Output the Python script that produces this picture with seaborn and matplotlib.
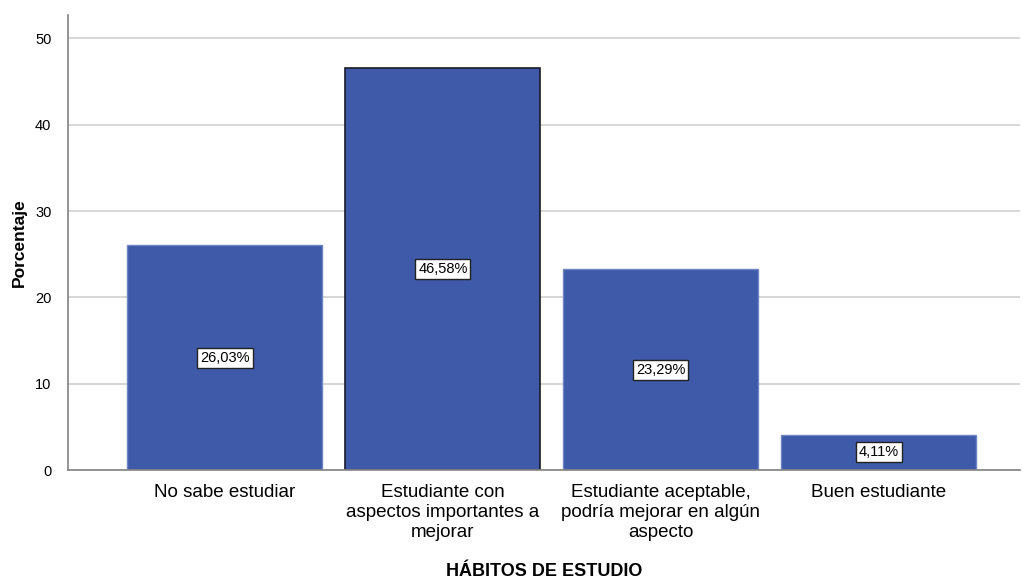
import pandas as pd
import seaborn as sns
import matplotlib.pyplot as plt

categorias = ["No sabe estudiar",
              "Estudiante con\naspectos importantes a\nmejorar",
              "Estudiante aceptable,\npodría mejorar en algún\naspecto",
              "Buen estudiante"]
porcentajes = [26.03, 46.58, 23.29, 4.11]
etiquetas = ["26,03%", "46,58%", "23,29%", "4,11%"]

df = pd.DataFrame({"habitos": categorias, "porcentaje": porcentajes})

sns.set_theme(style="white")
plt.rcParams["font.family"] = ["Liberation Sans", "DejaVu Sans"]
plt.rcParams["text.color"] = "black"
plt.rcParams["axes.labelcolor"] = "black"
plt.rcParams["xtick.color"] = "black"
plt.rcParams["ytick.color"] = "black"

fig = plt.figure(figsize=(10.23, 5.79), dpi=100)
ax = fig.add_axes([0.0665, 0.188, 0.931, 0.786])

sns.barplot(x="habitos", y="porcentaje", data=df, color="#3E5AA8",
            saturation=1, width=0.895, edgecolor="#6F86C4", linewidth=1, ax=ax)
# the second bar is outlined darker in the original
ax.patches[1].set_edgecolor("#1a1a2a")
ax.patches[1].set_linewidth(1.2)

for i, (v, t) in enumerate(zip(porcentajes, etiquetas)):
    ax.text(i, v / 2, t, ha="center", va="center", fontsize=10.5, color="black",
            bbox=dict(boxstyle="square,pad=0.2", facecolor="white",
                      edgecolor="#222222", linewidth=1))

ax.set_xlim(-0.72, 3.65)
ax.set_ylim(0, 52.7)
ax.set_yticks([0, 10, 20, 30, 40, 50])
ax.set_xticks(range(len(categorias)))
ax.set_xticklabels(categorias, fontsize=13.5, linespacing=1.22)
ax.yaxis.grid(True, color="#d0d0d0", linewidth=1.2)
ax.set_axisbelow(True)
for s in ["top", "right"]:
    ax.spines[s].set_visible(False)
ax.spines["left"].set_color("#888888")
ax.spines["bottom"].set_color("#888888")
ax.tick_params(axis="y", labelsize=10.5, length=0, pad=12)
ax.tick_params(axis="x", length=0, pad=10)
ax.set_ylabel("Porcentaje", fontsize=12.5, fontweight="bold", labelpad=6)
ax.set_xlabel("HÁBITOS DE ESTUDIO", fontsize=13, fontweight="bold", labelpad=16)

plt.savefig("out.png", dpi=100)
